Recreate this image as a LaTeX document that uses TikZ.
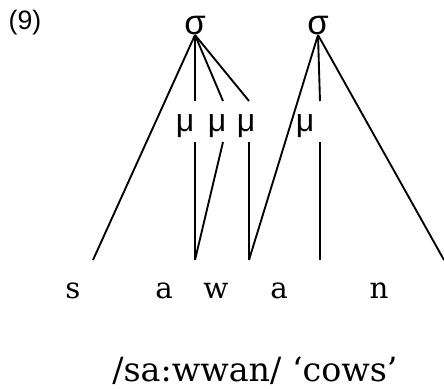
\documentclass[tikz,border=0pt]{standalone}
\usepackage{fontspec}
\setmainfont{DejaVu Serif}
\newfontfamily\sylfont{Liberation Sans}
\usetikzlibrary{positioning}
\tikzset{
  exnode/.style={font=\sylfont\fontsize{20}{24}\selectfont, inner sep=0pt},
  sylnode/.style={font=\sylfont\fontsize{26}{30}\selectfont, inner sep=0pt, anchor=south},
  moranode/.style={font=\sylfont\fontsize{24}{28}\selectfont, inner sep=0pt},
  segnode/.style={font=\fontsize{22}{26}\selectfont, inner sep=0pt, anchor=base},
  glossnode/.style={font=\fontsize{25}{30}\selectfont, inner sep=0pt, anchor=base},
  assoc/.style={line width=1.4pt}
}

\begin{document}
\begin{tikzpicture}[x=0.75pt, y=-0.75pt]
  \useasboundingbox (0,0) rectangle (444,389);

  % Example number
  \node[exnode] (num) at (25,23) {(9)};

  % Syllables
  \node[sylnode] (syl1) at (195,35) {σ};
  \node[sylnode] (syl2) at (318,35) {σ};

  % Moras
  \node[moranode] (mu1) at (185,126) {μ};
  \node[moranode] (mu2) at (217,126) {μ};
  \node[moranode] (mu3) at (246,126) {μ};
  \node[moranode] (mu4) at (305,126) {μ};

  % Mora line ends
  \coordinate (mu1t) at (195,101);
  \coordinate (mu2t) at (223,101);
  \coordinate (mu3t) at (249,101);
  \coordinate (mu4t) at (320,101);
  \coordinate (mu1b) at (195,142);
  \coordinate (mu2b) at (223,142);
  \coordinate (mu3b) at (249,142);
  \coordinate (mu4b) at (320,142);

  % Segment line ends
  \coordinate (sS) at (93,260);
  \coordinate (sA) at (195,260);
  \coordinate (sA2) at (249,260);
  \coordinate (sW) at (320,260);
  \coordinate (sN) at (444,260);

  % Segments
  \node[segnode] (segS) at (73,298) {s};
  \node[segnode] (segA) at (164,298) {a};
  \node[segnode] (segW) at (216,298) {w};
  \node[segnode] (segA2) at (279,298) {a};
  \node[segnode] (segN) at (379,298) {n};

  % Gloss
  \node[glossnode] (gloss) at (255,382) {/sa:wwan/ ‘cows’};

  % Association lines
  \draw[assoc] (syl1.south) -- (sS);
  \draw[assoc] (syl1.south) -- (mu1t);
  \draw[assoc] (syl1.south) -- (mu2t);
  \draw[assoc] (syl1.south) -- (mu3t);
  \draw[assoc] (syl2.south) -- (sA2);
  \draw[assoc] (syl2.south) -- (mu4t);
  \draw[assoc] (syl2.south) -- (sN);
  \draw[assoc] (mu1b) -- (sA);
  \draw[assoc] (mu2b) -- (sA);
  \draw[assoc] (mu3b) -- (sA2);
  \draw[assoc] (mu4b) -- (sW);
\end{tikzpicture}
\end{document}
